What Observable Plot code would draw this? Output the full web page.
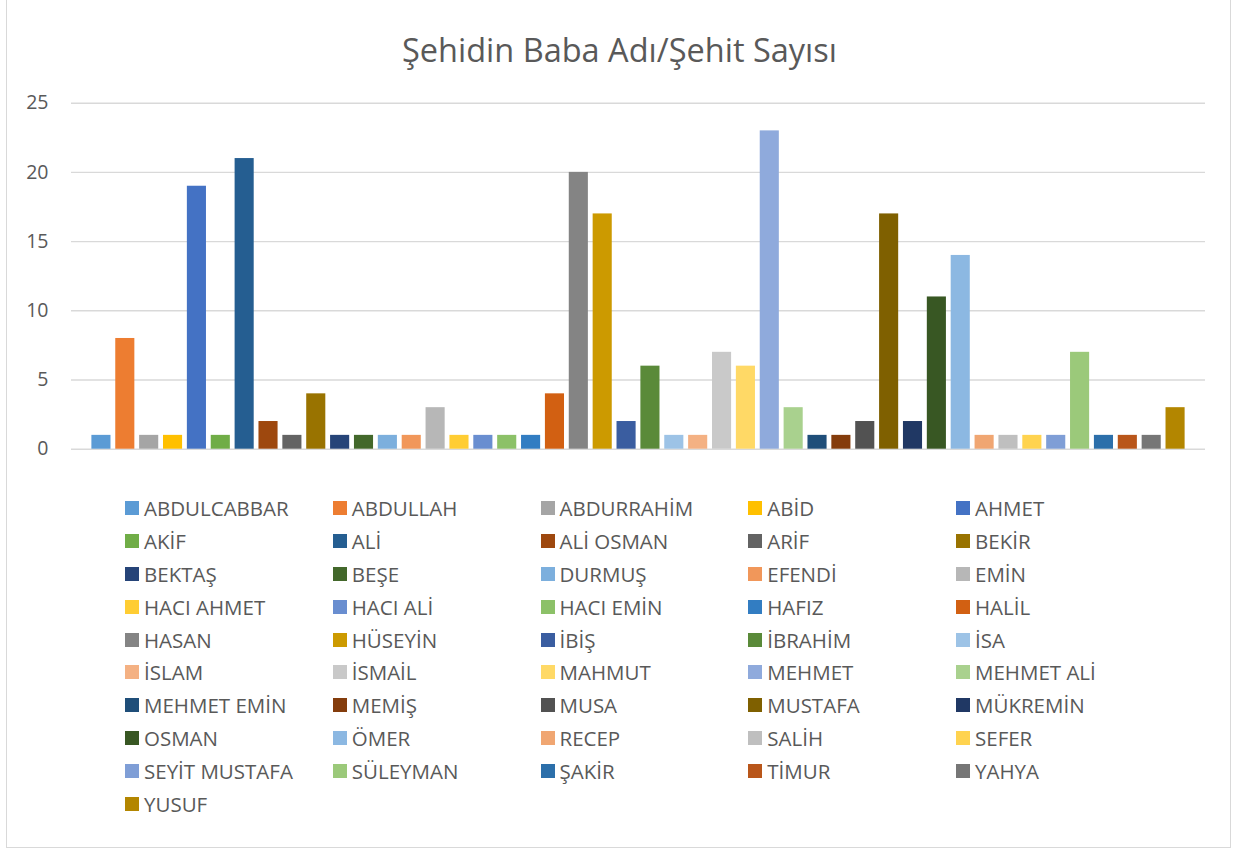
<!DOCTYPE html>
<html>
<head>
<meta charset="utf-8">
<script src="https://cdn.jsdelivr.net/npm/d3@7"></script>
<script src="https://cdn.jsdelivr.net/npm/@observablehq/plot@0.6"></script>
<style>
  html, body { margin: 0; padding: 0; background: #fff; }
  body { width: 1233px; height: 850px; position: relative; overflow: hidden; font-family: "Open Sans", sans-serif; }
  #frame { position: absolute; left: 6px; top: -1px; width: 1225px; height: 849px; border: 1px solid #D9D9D9; box-sizing: border-box; }
  #chart { position: absolute; left: 0; top: 0; }
  #title { position: absolute; left: 0; width: 1239px; top: 28px; text-align: center; font-size: 32.5px; color: #595959; line-height: 44px; }
  .lg { position: absolute; height: 20px; display: flex; align-items: center; font-size: 20.5px; color: #595959; white-space: nowrap; }
  .lg span.sw { display: inline-block; width: 14px; height: 14px; margin-right: 5px; }
</style>
</head>
<body>
<div id="frame"></div>
<div id="chart"></div>
<div id="title">Şehidin Baba Adı/Şehit Sayısı</div>
<div id="legend"></div>
<script>
const names = ["ABDULCABBAR","ABDULLAH","ABDURRAHİM","ABİD","AHMET",
  "AKİF","ALİ","ALİ OSMAN","ARİF","BEKİR",
  "BEKTAŞ","BEŞE","DURMUŞ","EFENDİ","EMİN",
  "HACI AHMET","HACI ALİ","HACI EMİN","HAFIZ","HALİL",
  "HASAN","HÜSEYİN","İBİŞ","İBRAHİM","İSA",
  "İSLAM","İSMAİL","MAHMUT","MEHMET","MEHMET ALİ",
  "MEHMET EMİN","MEMİŞ","MUSA","MUSTAFA","MÜKREMİN",
  "OSMAN","ÖMER","RECEP","SALİH","SEFER",
  "SEYİT MUSTAFA","SÜLEYMAN","ŞAKİR","TİMUR","YAHYA",
  "YUSUF"];
const values = [1,8,1,1,19,
  1,21,2,1,4,
  1,1,1,1,3,
  1,1,1,1,4,
  20,17,2,6,1,
  1,7,6,23,3,
  1,1,2,17,2,
  11,14,1,1,1,
  1,7,1,1,1,
  3];
const colors = ["#5B9BD5","#ED7D31","#A5A5A5","#FFC000","#4472C4",
  "#70AD47","#255E91","#9E480E","#636363","#997300",
  "#264478","#43682B","#7CAFDD","#F1975A","#B7B7B7",
  "#FFCD33","#698ED0","#8CC168","#327DC2","#D26012",
  "#848484","#CC9A00","#3A5DA0","#5A8A39","#9DC3E6",
  "#F4B183","#C9C9C9","#FFD966","#8FAADC","#A9D18E",
  "#1F4E79","#843C0C","#525252","#7F6000","#203864",
  "#385723","#8CB8E2","#F0A672","#BFBFBF","#FFD34F",
  "#7F9ED6","#9BC97A","#2C6FAA","#B9561A","#767676",
  "#B38600"];
const yTicks = [0,5,10,15,20,25];

const data = names.map((n, i) => ({name: n, value: values[i]}));

const plot = Plot.plot({
  width: 1233,
  height: 470,
  marginTop: 102.7,
  marginBottom: 21.3,
  marginLeft: 71,
  marginRight: 28,
  style: {fontFamily: "Open Sans", fontSize: "19.5px", color: "#595959", background: "transparent"},
  x: {domain: names, range: [89, 1187], paddingInner: 0.2, paddingOuter: 0.1, axis: null},
  y: {domain: [0, 25], nice: false, axis: null},
  color: {domain: names, range: colors},
  marks: [
    Plot.ruleY(yTicks, {stroke: "#D9D9D9", strokeWidth: 1.4}),
    Plot.barY(data, {x: "name", y: "value", fill: "name"}),
    Plot.axisY({ticks: yTicks, tickSize: 0, tickPadding: 23, label: null, fill: "#595959"})
  ]
});
document.getElementById("chart").appendChild(plot);

const legend = document.getElementById("legend");
names.forEach((n, i) => {
  const col = i % 5, row = Math.floor(i / 5);
  const d = document.createElement("div");
  d.className = "lg";
  d.style.left = (125 + col * 207.75) + "px";
  d.style.top = (509.3 + row * 32.8 - 11) + "px";
  const sw = document.createElement("span");
  sw.className = "sw";
  sw.style.background = colors[i];
  d.appendChild(sw);
  d.appendChild(document.createTextNode(n));
  legend.appendChild(d);
});
</script>
</body>
</html>
